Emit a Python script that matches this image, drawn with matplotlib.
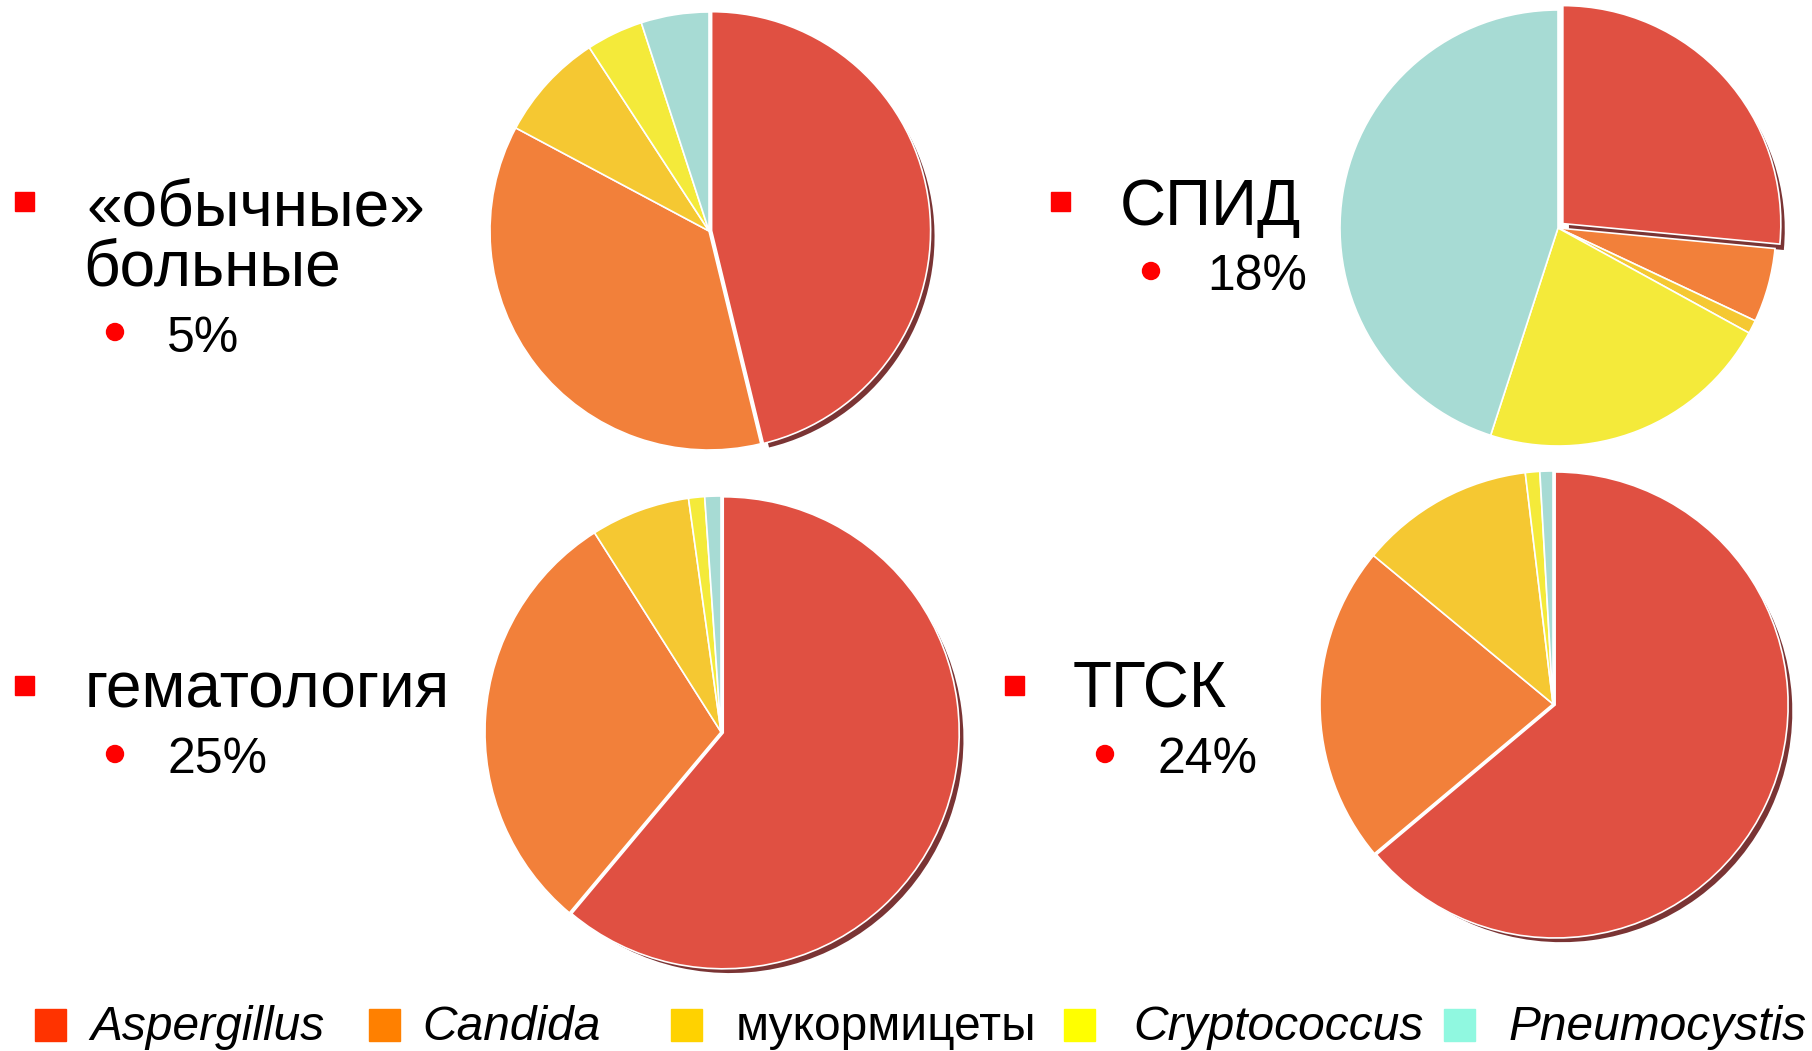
import matplotlib
matplotlib.use("Agg")
import matplotlib.pyplot as plt
from matplotlib.patches import Rectangle, Circle

plt.rcParams['font.family'] = ['Liberation Sans', 'DejaVu Sans']

# data
species = ["Aspergillus", "Candida", "мукормицеты", "Cryptococcus", "Pneumocystis"]
italic = [True, True, False, True, True]
groups = ["«обычные»\nбольные", "СПИД", "гематология", "ТГСК"]
group_pct = ["5%", "18%", "25%", "24%"]
shares_usual = [46.2, 36.6, 8.0, 4.2, 5.0]
shares_aids = [26.5, 5.5, 1.0, 22.0, 45.0]
shares_hemat = [61.1, 29.9, 6.8, 1.1, 1.1]
shares_hsct = [63.9, 22.1, 12.1, 1.0, 0.9]

slice_colors = ["#E05042", "#F2803A", "#F5C832", "#F4EA3A", "#A7DBD4"]
legend_colors = ["#FF3300", "#FF8000", "#FFD200", "#FFFF00", "#90F8E0"]
bevel = "#7A3434"

W, H = 1812, 1051
fig = plt.figure(figsize=(W / 100, H / 100), dpi=100)
fig.patch.set_facecolor("white")

# overlay in pixel coords for text / bullets / legend
ov = fig.add_axes([0, 0, 1, 1])
ov.set_xlim(0, W)
ov.set_ylim(H, 0)
ov.axis("off")


def pie_at(cx, cy, r, vals, expl):
    side = 2.2 * r
    ax = fig.add_axes([(cx - side / 2) / W, 1 - (cy + side / 2) / H, side / W, side / H])
    ex = [expl, 0, 0, 0, 0]
    # dark bevel / shadow under the red slice
    ax.pie(vals, colors=[bevel, "none", "none", "none", "none"], startangle=90,
           counterclock=False, explode=ex, center=(0.028, -0.028), radius=0.99,
           wedgeprops=dict(linewidth=0))
    ax.pie(vals, colors=slice_colors, startangle=90, counterclock=False,
           explode=ex, radius=1.0,
           wedgeprops=dict(edgecolor="white", linewidth=1.2))
    ax.set_xlim(-1.1, 1.1)
    ax.set_ylim(-1.1, 1.1)
    ax.set_aspect("equal")
    ax.axis("off")
    return ax


pie_at(709, 231, 219, shares_usual, 0.012)
pie_at(1558, 228, 218, shares_aids, 0.03)
pie_at(721, 732, 236, shares_hemat, 0.01)
pie_at(1553, 704, 233, shares_hsct, 0.01)

# group labels
sq_pos = [(15, 192), (1051, 192), (15, 676), (1005, 676)]
title_pos = [(86, 225), (1120, 225), (85, 708), (1073, 708)]
dot_pos = [(115, 332), (1151, 271), (115, 754), (1105, 754)]
pct_pos = [(167, 352), (1207, 290), (167, 773), (1157, 773)]

for i in range(4):
    ov.add_patch(Rectangle(sq_pos[i], 19, 19, color="#FF0000"))
    for j, line in enumerate(groups[i].split("\n")):
        ov.text(title_pos[i][0] - 3 * j, title_pos[i][1] + 61 * j, line, fontsize=46,
                va="baseline", ha="left")
    ov.add_patch(Circle(dot_pos[i], 8.5, color="#FF0000"))
    ov.text(pct_pos[i][0], pct_pos[i][1], group_pct[i], fontsize=36, va="baseline", ha="left")

# legend
leg_sq_x = [35, 369, 671, 1064, 1444]
leg_txt_x = [90, 422, 736, 1133, 1509]
for i, name in enumerate(species):
    ov.add_patch(Rectangle((leg_sq_x[i], 1009), 31, 32, color=legend_colors[i]))
    ov.text(leg_txt_x[i], 1040, name, fontsize=34.5, va="baseline", ha="left",
            style="italic" if italic[i] else "normal")

fig.savefig("out.png", dpi=100)
